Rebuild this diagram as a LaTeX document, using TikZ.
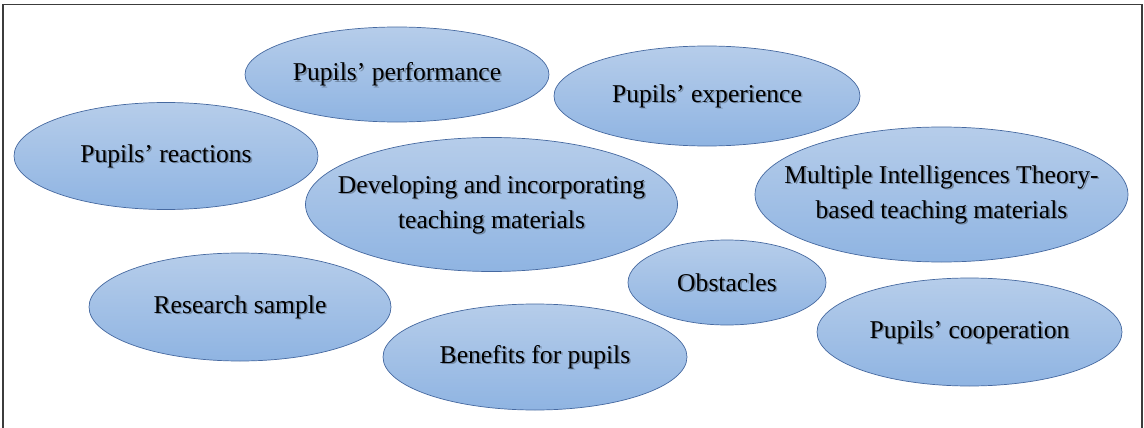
\documentclass[tikz,border=0pt]{standalone}
\usepackage{fontspec}
\setmainfont{Liberation Serif}
\usetikzlibrary{shapes.geometric,calc}
\definecolor{bubbletop}{RGB}{182,205,234}
\definecolor{bubblebot}{RGB}{143,180,226}
\definecolor{bubbleline}{RGB}{70,105,160}
\definecolor{framecol}{RGB}{60,60,60}
\newcommand\bubblefont{\fontsize{25.6}{35}\selectfont}
\tikzset{
  % ellipse size is set only by minimum width/height (negative inner sep)
  bubble/.style={ellipse, draw=bubbleline, line width=0.7pt,
    top color=bubbletop, bottom color=bubblebot,
    inner sep=-70pt, align=center, font=\bubblefont,
    % soft drop shadow behind the label
    path picture={\node[align=center, font=\bubblefont, text=black, opacity=0.28]
      at ($(path picture bounding box.center)+(1.6,1.6)$) {#1};}},
}
\begin{document}
\begin{tikzpicture}[x=1pt,y=-1pt]
  \useasboundingbox (0,0) rectangle (1144,428);
  \fill[white] (0,0) rectangle (1144,428);
  % open frame: left, top and right sides
  \draw[framecol, line width=1.6pt] (3,428) -- (3,4.5) -- (1142,4.5) -- (1142,428);

  \node[bubble={Pupils’ performance}, minimum width=304pt, minimum height=95pt]  (perf)  at (397,74.5)  {Pupils’ performance};
  \node[bubble={Pupils’ experience}, minimum width=306pt, minimum height=100pt] (exp)   at (707,96)    {Pupils’ experience};
  \node[bubble={Pupils’ reactions}, minimum width=304pt, minimum height=107pt] (react) at (166,156)   {Pupils’ reactions};
  \node[bubble={Developing and incorporating\\teaching materials}, minimum width=372pt, minimum height=134pt] (dev) at (491.5,204.5) {Developing and incorporating\\teaching materials};
  \node[bubble={Multiple Intelligences Theory-\\based teaching materials}, minimum width=373pt, minimum height=135pt] (mit) at (941.5,194.5) {Multiple Intelligences Theory-\\based teaching materials};
  \node[bubble={Research sample}, minimum width=302pt, minimum height=108pt] (samp)  at (240,307)   {Research sample};
  \node[bubble={Obstacles}, minimum width=198pt, minimum height=85pt]  (obst)  at (727,282.5) {Obstacles};
  \node[bubble={Pupils’ cooperation}, minimum width=305pt, minimum height=108pt] (coop)  at (969.5,332) {Pupils’ cooperation};
  \node[bubble={Benefits for pupils}, minimum width=304pt, minimum height=106pt] (ben)   at (535,357)   {Benefits for pupils};
\end{tikzpicture}
\end{document}
